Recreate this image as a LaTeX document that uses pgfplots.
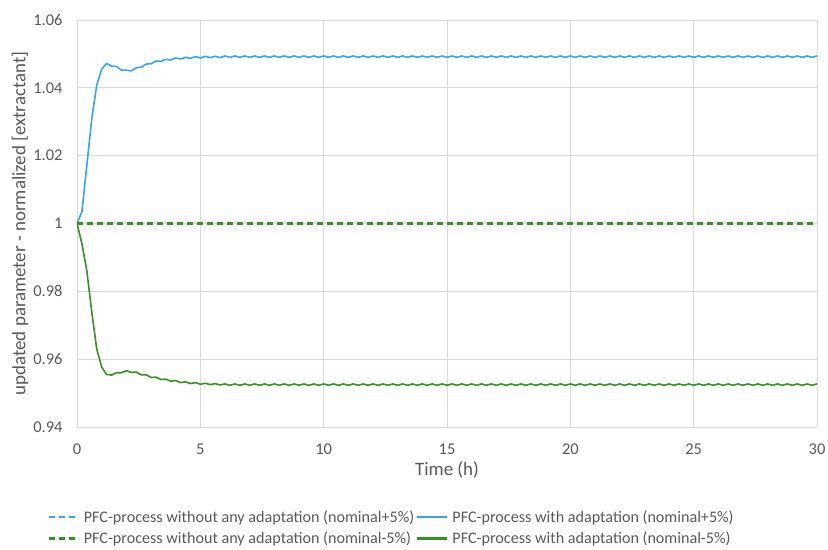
\documentclass[border=0pt]{standalone}
\usepackage{pgfplots}
\pgfplotsset{compat=1.18}
\usepackage{pgfplotstable}
\usepackage{fontspec}
\setmainfont{Carlito}
\definecolor{cblue}{RGB}{62,162,228}
\definecolor{cgreen}{RGB}{58,142,42}
\definecolor{tgray}{RGB}{89,89,89}
\definecolor{ggray}{RGB}{217,217,217}

\pgfplotstableread{
t b g
0.0 1.0000 1.0000
0.2 1.0035 0.9940
0.4 1.0172 0.9860
0.6 1.0310 0.9738
0.8 1.0408 0.9630
1.0 1.0455 0.9577
1.2 1.0472 0.9555
1.4 1.0464 0.9553
1.6 1.0463 0.9560
1.8 1.0452 0.9560
2.0 1.0452 0.9566
2.2 1.0450 0.9561
2.4 1.0459 0.9562
2.6 1.0461 0.9554
2.8 1.0470 0.9554
3.0 1.0471 0.9546
3.2 1.0479 0.9547
3.4 1.0478 0.9540
3.6 1.0484 0.9541
3.8 1.0482 0.9535
4.0 1.0488 0.9537
4.2 1.0485 0.9531
4.4 1.0490 0.9533
4.6 1.0487 0.9528
4.8 1.0492 0.9531
5.0 1.0488 0.9526
5.2 1.0493 0.9529
5.4 1.0489 0.9525
5.6 1.0493 0.9528
5.8 1.0489 0.9524
6.0 1.0494 0.9527
6.2 1.0490 0.9523
6.4 1.0494 0.9527
6.6 1.0490 0.9523
6.8 1.0494 0.9527
7.0 1.0490 0.9523
7.2 1.0494 0.9527
7.4 1.0490 0.9523
7.6 1.0494 0.9527
7.8 1.0490 0.9523
8.0 1.0494 0.9527
8.2 1.0490 0.9523
8.4 1.0494 0.9527
8.6 1.0490 0.9523
8.8 1.0494 0.9527
9.0 1.0490 0.9523
9.2 1.0494 0.9527
9.4 1.0490 0.9523
9.6 1.0494 0.9527
9.8 1.0490 0.9523
10.0 1.0494 0.9527
10.2 1.0490 0.9523
10.4 1.0494 0.9527
10.6 1.0490 0.9523
10.8 1.0494 0.9527
11.0 1.0490 0.9523
11.2 1.0494 0.9527
11.4 1.0490 0.9523
11.6 1.0494 0.9527
11.8 1.0490 0.9523
12.0 1.0494 0.9527
12.2 1.0490 0.9523
12.4 1.0494 0.9527
12.6 1.0490 0.9523
12.8 1.0494 0.9527
13.0 1.0490 0.9523
13.2 1.0494 0.9527
13.4 1.0490 0.9523
13.6 1.0494 0.9527
13.8 1.0490 0.9523
14.0 1.0494 0.9527
14.2 1.0490 0.9523
14.4 1.0494 0.9527
14.6 1.0490 0.9523
14.8 1.0494 0.9527
15.0 1.0490 0.9523
15.2 1.0494 0.9527
15.4 1.0490 0.9523
15.6 1.0494 0.9527
15.8 1.0490 0.9523
16.0 1.0494 0.9527
16.2 1.0490 0.9523
16.4 1.0494 0.9527
16.6 1.0490 0.9523
16.8 1.0494 0.9527
17.0 1.0490 0.9523
17.2 1.0494 0.9527
17.4 1.0490 0.9523
17.6 1.0494 0.9527
17.8 1.0490 0.9523
18.0 1.0494 0.9527
18.2 1.0490 0.9523
18.4 1.0494 0.9527
18.6 1.0490 0.9523
18.8 1.0494 0.9527
19.0 1.0490 0.9523
19.2 1.0494 0.9527
19.4 1.0490 0.9523
19.6 1.0494 0.9527
19.8 1.0490 0.9523
20.0 1.0494 0.9527
20.2 1.0490 0.9523
20.4 1.0494 0.9527
20.6 1.0490 0.9523
20.8 1.0494 0.9527
21.0 1.0490 0.9523
21.2 1.0494 0.9527
21.4 1.0490 0.9523
21.6 1.0494 0.9527
21.8 1.0490 0.9523
22.0 1.0494 0.9527
22.2 1.0490 0.9523
22.4 1.0494 0.9527
22.6 1.0490 0.9523
22.8 1.0494 0.9527
23.0 1.0490 0.9523
23.2 1.0494 0.9527
23.4 1.0490 0.9523
23.6 1.0494 0.9527
23.8 1.0490 0.9523
24.0 1.0494 0.9527
24.2 1.0490 0.9523
24.4 1.0494 0.9527
24.6 1.0490 0.9523
24.8 1.0494 0.9527
25.0 1.0490 0.9523
25.2 1.0494 0.9527
25.4 1.0490 0.9523
25.6 1.0494 0.9527
25.8 1.0490 0.9523
26.0 1.0494 0.9527
26.2 1.0490 0.9523
26.4 1.0494 0.9527
26.6 1.0490 0.9523
26.8 1.0494 0.9527
27.0 1.0490 0.9523
27.2 1.0494 0.9527
27.4 1.0490 0.9523
27.6 1.0494 0.9527
27.8 1.0490 0.9523
28.0 1.0494 0.9527
28.2 1.0490 0.9523
28.4 1.0494 0.9527
28.6 1.0490 0.9523
28.8 1.0494 0.9527
29.0 1.0490 0.9523
29.2 1.0494 0.9527
29.4 1.0490 0.9523
29.6 1.0494 0.9527
29.8 1.0490 0.9523
30.0 1.0494 0.9527
}\datatab

\begin{document}
\begin{tikzpicture}
\path[use as bounding box] (-77bp,-123bp) rectangle (751bp,427bp);
\begin{axis}[
  scale only axis, width=740bp, height=407bp,
  xmin=0, xmax=30, ymin=0.94, ymax=1.06,
  xtick={0,5,10,15,20,25,30},
  xticklabels={0,5,10,15,20,25,30},
  ytick={0.94,0.96,0.98,1,1.02,1.04,1.06},
  yticklabels={0.94,0.96,0.98,1,1.02,1.04,1.06},
  grid=major,
  major grid style={ggray, line width=0.8bp},
  axis line style={draw=none},
  tick style={draw=none},
  /pgf/number format/assume math mode=true,
  ticklabel style={font=\fontsize{16.5}{19}\selectfont, text=tgray},
  xticklabel style={anchor=center, yshift=-22bp},
  yticklabel style={anchor=east, xshift=-11bp},
  xlabel={Time (h)},
  ylabel={updated parameter - normalized [extractant]},
  label style={font=\fontsize{19}{22}\selectfont, text=tgray},
  xlabel style={at={(axis description cs:0.5,-0.1057)}, anchor=center},
  ylabel style={at={(axis description cs:-0.077,0.5)}, anchor=center},
  legend columns=2,
  legend cell align=left,
  legend image code/.code={\draw[#1, line width=2.2bp] (0bp,0bp) -- (30bp,0bp);},
  legend style={at={(axis description cs:-0.04,-0.2)}, anchor=north west,
    draw=none, fill=none, font=\fontsize{16.2}{19}\selectfont, text=tgray,
    row sep=4bp, inner sep=0pt,
    /tikz/every odd column/.append style={column sep=2bp}},
]
\addplot[cblue, line width=2.2bp, dash pattern=on 6bp off 4bp] coordinates {(0,1) (30,1)};
\addlegendentry{PFC-process without any adaptation (nominal+5\%)}
\addplot[cblue, line width=1.6bp] table[x=t,y=b] {\datatab};
\addlegendentry{PFC-process with adaptation (nominal+5\%)}
\addplot[cgreen, line width=2.2bp, dash pattern=on 6bp off 4bp] coordinates {(0,1) (30,1)};
\addlegendentry{PFC-process without any adaptation (nominal-5\%)}
\addplot[cgreen, line width=1.6bp] table[x=t,y=g] {\datatab};
\addlegendentry{PFC-process with adaptation (nominal-5\%)}
\end{axis}
\end{tikzpicture}
\end{document}
